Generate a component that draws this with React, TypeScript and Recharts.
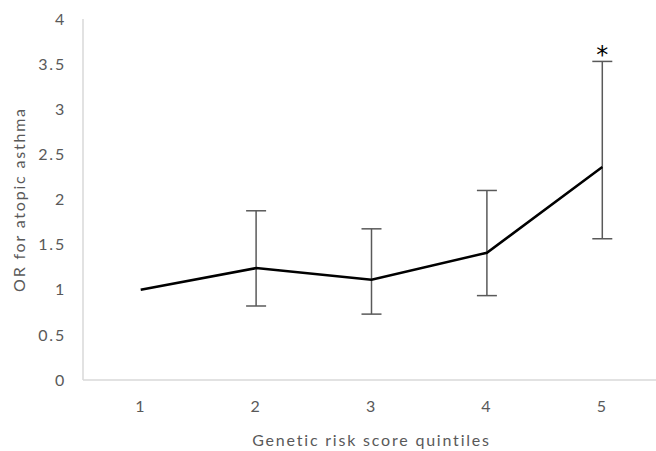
import { LineChart, Line, XAxis, YAxis, ErrorBar, ReferenceDot } from "recharts";

const quintiles = ["1", "2", "3", "4", "5"];
const oddsRatio = [1.0, 1.24, 1.11, 1.41, 2.36];
const lowerCI = [null, 0.82, 0.73, 0.935, 1.565];
const upperCI = [null, 1.875, 1.675, 2.1, 3.53];
const yTicks = [0, 0.5, 1, 1.5, 2, 2.5, 3, 3.5, 4];
const significant = ["5"];

const data = quintiles.map((q, i) => ({
  name: q,
  or: oddsRatio[i],
  err:
    lowerCI[i] == null || upperCI[i] == null
      ? null
      : [oddsRatio[i] - (lowerCI[i] as number), (upperCI[i] as number) - oddsRatio[i]],
}));

const font = "Lato, 'Open Sans', sans-serif";
const textStyle = { fill: "#595959", fontSize: 16, fontFamily: font, letterSpacing: 1.8 };
const pad = { left: 57.7, right: 57.7 };

const App = () => {
  return (
    <div
      style={{
        position: "absolute",
        left: 0,
        top: 0,
        width: 656,
        height: 451,
        overflow: "hidden",
        background: "#fff",
      }}
    >
      <LineChart width={670} height={451} data={data} margin={{ top: 19, right: 10, bottom: 0, left: 0 }}>
        <XAxis
          xAxisId="top"
          orientation="top"
          dataKey="name"
          height={0}
          padding={pad}
          tick={false}
          tickLine={false}
          axisLine={{ stroke: "#d9d9d9", strokeWidth: 1.5 }}
        />
        <XAxis
          dataKey="name"
          height={71}
          padding={pad}
          tickLine={false}
          tickSize={0}
          tickMargin={21}
          tick={textStyle}
          axisLine={{ stroke: "#d9d9d9", strokeWidth: 1.5 }}
          label={{
            value: "Genetic risk score quintiles",
            position: "insideBottom",
            offset: 5,
            style: textStyle,
          }}
        />
        <YAxis
          width={83}
          domain={[0, 4]}
          ticks={yTicks}
          interval={0}
          tickLine={false}
          tickSize={0}
          tickMargin={17}
          tick={textStyle}
          axisLine={{ stroke: "#d9d9d9", strokeWidth: 1.5 }}
          label={{
            value: "OR for atopic asthma",
            angle: -90,
            position: "insideLeft",
            offset: 19,
            style: { ...textStyle, textAnchor: "middle" },
          }}
        />
        <Line
          type="linear"
          dataKey="or"
          stroke="#000"
          strokeWidth={2.5}
          dot={false}
          activeDot={false}
          isAnimationActive={false}
        >
          <ErrorBar dataKey="err" width={10} stroke="#595959" strokeWidth={1.5} direction="y" isAnimationActive={false} />
        </Line>
        {significant.map((q) => {
          const i = quintiles.indexOf(q);
          return (
            <ReferenceDot
              key={q}
              x={q}
              y={upperCI[i] as number}
              r={0}
              stroke="none"
              label={{ value: "*", position: "top", offset: -2, style: { fill: "#000", fontSize: 24, fontFamily: "'DejaVu Sans', sans-serif" } }}
            />
          );
        })}
      </LineChart>
    </div>
  );
};

export default App;
